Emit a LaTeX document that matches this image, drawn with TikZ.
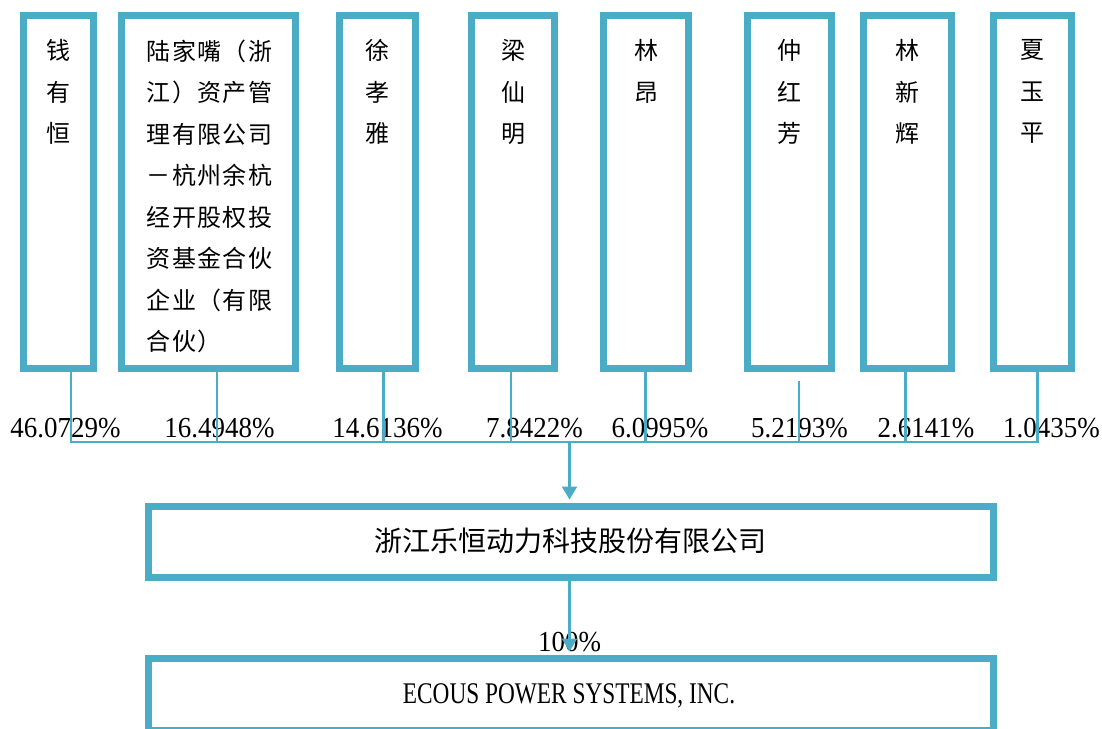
\documentclass[tikz,border=0pt]{standalone}
\usepackage{fontspec}
\usepackage{graphicx}
\setmainfont{Liberation Serif}
\newfontfamily\cjk{Noto Sans CJK SC}
\newfontfamily\cjkls{Noto Sans CJK SC}[LetterSpace=6]
\usetikzlibrary{arrows.meta}
\definecolor{lbl}{HTML}{4BACC6}
\newcommand{\pctxt}[1]{\scalebox{0.93}[1]{\fontsize{29bp}{29bp}\selectfont #1}}
\begin{document}
\begin{tikzpicture}[x=1bp,y=-1bp,
  holder/.style={draw=lbl, line width=7bp, inner sep=0pt, minimum height=353bp},
  wide/.style={draw=lbl, line width=7bp, inner sep=0pt},
  nm/.style={anchor=north, inner sep=0pt, align=center, font=\cjk\fontsize{24bp}{41.5bp}\selectfont},
  pct/.style={anchor=base, inner sep=0pt},
  conn/.style={draw=lbl, line width=2.5bp},
  arr/.style={conn, -{Triangle[width=15bp,length=13bp]}, shorten >=3.5bp}]
\useasboundingbox (0,0) rectangle (1102,729);
\clip (0,0) rectangle (1102,729);
% shareholder boxes
\node[holder, minimum width=70bp] (b1) at (58.5,192) {};
\node[holder, minimum width=174bp] (b2) at (208.5,192) {};
\node[holder, minimum width=75.5bp] (b3) at (377.3,192) {};
\node[holder, minimum width=83bp] (b4) at (513,192) {};
\node[holder, minimum width=85bp] (b5) at (646,192) {};
\node[holder, minimum width=84bp] (b6) at (789.5,192) {};
\node[holder, minimum width=88bp] (b7) at (907.5,192) {};
\node[holder, minimum width=78bp] (b8) at (1032.5,192) {};
% names
\node[nm] (t1) at ([yshift=-27.5bp]b1.north) {钱\\有\\恒};
\node[nm, align=left, font=\cjkls\fontsize{24bp}{41.5bp}\selectfont] (t2) at ([xshift=1bp,yshift=-27.5bp]b2.north)
  {陆家嘴（浙\\江）资产管\\理有限公司\\－杭州余杭\\经开股权投\\资基金合伙\\企业（有限\\合伙）};
\node[nm] (t3) at ([yshift=-27.5bp]b3.north) {徐\\孝\\雅};
\node[nm] (t4) at ([yshift=-27.5bp]b4.north) {梁\\仙\\明};
\node[nm] (t5) at ([yshift=-27.5bp]b5.north) {林\\昂};
\node[nm] (t6) at ([yshift=-27.5bp]b6.north) {仲\\红\\芳};
\node[nm] (t7) at ([yshift=-27.5bp]b7.north) {林\\新\\辉};
\node[nm] (t8) at ([yshift=-27.5bp]b8.north) {夏\\玉\\平};
% percentages
\node[pct] (p1) at (65.5,437) {\pctxt{46.0729\%}};
\node[pct] (p2) at (219.5,437) {\pctxt{16.4948\%}};
\node[pct] (p3) at (387.5,437) {\pctxt{14.6136\%}};
\node[pct] (p4) at (534.5,437) {\pctxt{7.8422\%}};
\node[pct] (p5) at (660,437) {\pctxt{6.0995\%}};
\node[pct] (p6) at (799.5,437) {\pctxt{5.2193\%}};
\node[pct] (p7) at (926,437) {\pctxt{2.6141\%}};
\node[pct] (p8) at (1051.5,437) {\pctxt{1.0435\%}};
% company boxes
\node[wide, minimum width=844.5bp, minimum height=71bp] (m) at (571.25,542) {};
\node[inner sep=0pt, font=\cjk\fontsize{28bp}{30bp}\selectfont] (mt) at ([xshift=-1.25bp,yshift=1bp]m.center) {浙江乐恒动力科技股份有限公司};
\node[wide, minimum width=844bp, minimum height=72bp] (e) at (571,694.5) {};
\node[pct] (et) at (569,703) {\scalebox{0.777}[1]{\fontsize{30bp}{30bp}\selectfont ECOUS POWER SYSTEMS, INC.}};
\node[pct] (pc) at (569.5,651) {\pctxt{100\%}};
% connectors
\coordinate (k1) at (71,442);
\coordinate (k2) at (217,442);
\coordinate (k3) at (383.3,442);
\coordinate (k4) at (511,442);
\coordinate (k5) at (645.7,442);
\coordinate (k6) at (799,442);
\coordinate (k6t) at (799,381);
\coordinate (k7) at (905.6,442);
\coordinate (k8) at (1037.5,442);
\coordinate (bus) at (569.5,442);
\draw[conn] (k1 |- b1.south) -- (k1);
\draw[conn] (k2 |- b2.south) -- (k2);
\draw[conn] (k3 |- b3.south) -- (k3);
\draw[conn] (k4 |- b4.south) -- (k4);
\draw[conn] (k5 |- b5.south) -- (k5);
\draw[conn] (k6t) -- (k6);
\draw[conn] (k7 |- b7.south) -- (k7);
\draw[conn] (k8 |- b8.south) -- (k8);
\draw[conn] ([xshift=-1.25bp]k1) -- ([xshift=1.25bp]k8);
\draw[arr] (bus) -- (bus |- m.north);
\draw[arr] (bus |- m.south) -- (bus |- e.north);
\end{tikzpicture}
\end{document}
